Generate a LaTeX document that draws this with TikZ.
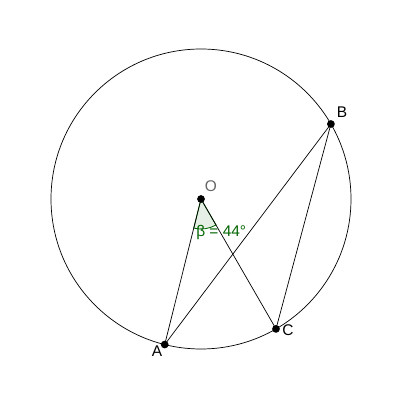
\documentclass[tikz,border=0pt]{standalone}
\usepackage{fontspec}
\setmainfont{Liberation Sans}
\usepackage{xcolor}
\definecolor{anglegreen}{RGB}{0,100,0}

\begin{document}
\begin{tikzpicture}[x=0.025cm, y=0.025cm,
        ptlabel/.style={font=\fontsize{11}{13}\selectfont, inner sep=0pt},
        dot/.style={circle, fill=black, inner sep=0pt, minimum size=5.5}]
    \useasboundingbox (-201,-201) rectangle (199,199);
    \coordinate (O) at (0,0);
    \coordinate (A) at (256:150);
    \coordinate (B) at (30:150);
    \coordinate (C) at (300:150);
    % angle sector at O
    \fill[anglegreen, opacity=0.1] (O) -- ++(256:30) arc (256:300:30) -- cycle;
    \draw[anglegreen, line width=0.6pt] (O) -- ++(256:30) arc (256:300:30) -- cycle;
    \draw[line width=0.5pt] (O) circle (150);
    \draw[line width=0.5pt] (O) -- (A);
    \draw[line width=0.5pt] (O) -- (C);
    \draw[line width=0.5pt] (A) -- (B) -- (C);
    \foreach \p in {O,A,B,C}
        \node[dot] (dot\p) at (\p) {};
    \node[ptlabel, text=black!60] (labO) at (10,13) {O};
    \node[ptlabel] (labA) at (-44,-152) {A};
    \node[ptlabel] (labB) at (141,87) {B};
    \node[ptlabel] (labC) at (87,-131) {C};
    \node[ptlabel, text=anglegreen, anchor=base west] (labbeta) at (-5,-38) {β = 44°};
\end{tikzpicture}
\end{document}
